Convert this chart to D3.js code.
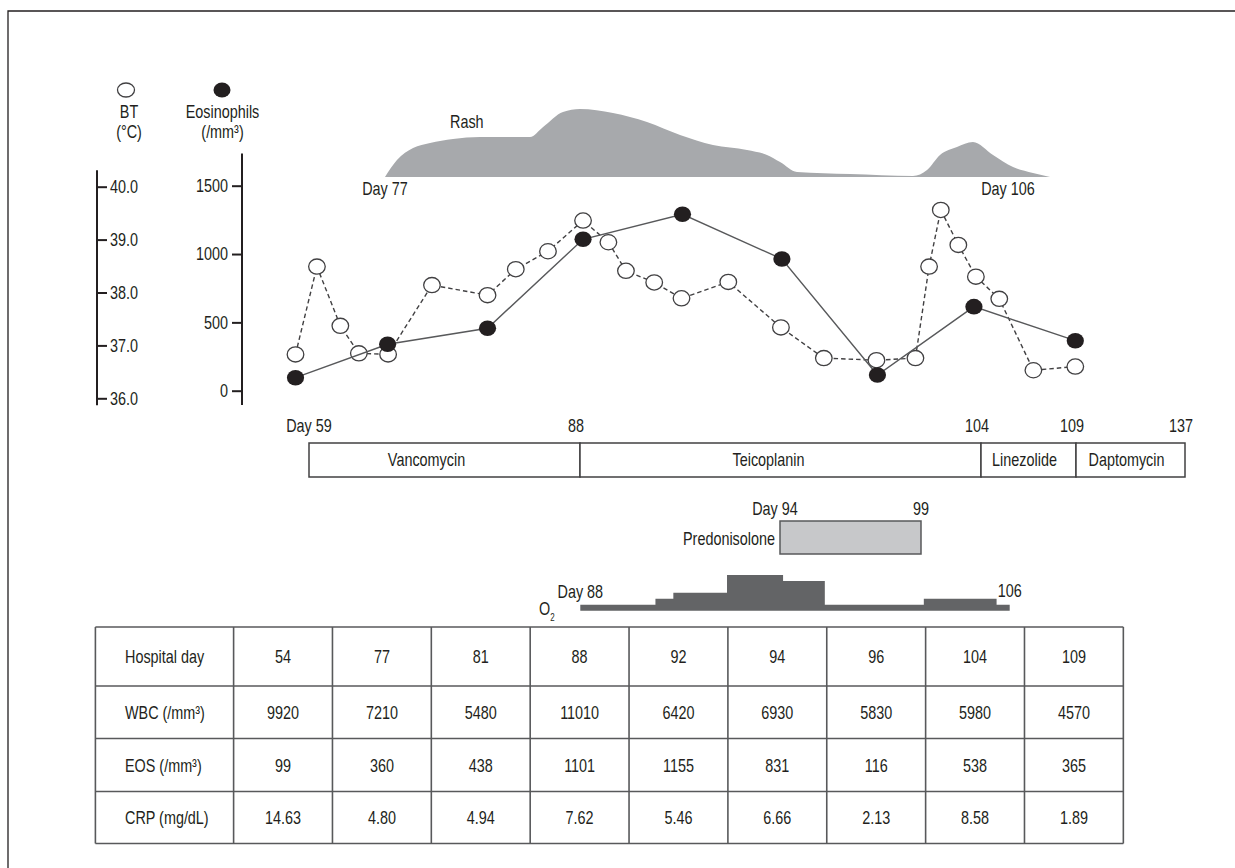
<!DOCTYPE html>
<html>
<head>
<meta charset="utf-8">
<script src="https://cdn.jsdelivr.net/npm/d3@7"></script>
<style>
  html, body { margin: 0; padding: 0; background: #fff; }
  svg text { font-family: "Liberation Sans", Arial, sans-serif; fill: #231f20; }
</style>
</head>
<body>
<script>
// ---------------- DATA ----------------
// Line chart: position along the (schematic) time axis, in units of table-column index
const eosPos  = [0, 0.945, 1.97, 2.95, 3.97, 4.99, 5.97, 6.96, 8.0];
const eosPlot = [95, 340, 457, 1108, 1291, 964, 115, 615, 366];           // eosinophils (/mm3) as drawn
const btPos   = [0, 0.22, 0.46, 0.65, 0.95, 1.40, 1.97, 2.26, 2.59, 2.95, 3.21, 3.39, 3.68,
                 3.96, 4.44, 4.98, 5.42, 5.96, 6.36, 6.50, 6.62, 6.80, 6.98, 7.22, 7.57, 8.0];
const btTemp  = [36.83, 38.49, 37.37, 36.85, 36.83, 38.14, 37.95, 38.44, 38.78, 39.36, 38.95, 38.41, 38.19,
                 37.89, 38.20, 37.34, 36.76, 36.72, 36.76, 38.49, 39.56, 38.90, 38.30, 37.88, 36.53, 36.60];
const btTicks  = [36, 37, 38, 39, 40];
const eosTicks = [0, 500, 1000, 1500];

// Rash intensity profile (relative, 0..1) along the same position axis
const rashPos   = [0.918, 1.041, 1.206, 1.380, 1.616, 1.893, 2.406, 2.540, 2.744, 2.919, 3.257, 3.606, 3.945,
                   4.283, 4.632, 4.837, 4.971, 5.145, 5.689, 6.335, 6.479, 6.612, 6.786, 6.950, 7.156, 7.361, 7.566, 7.741];
const rashLevel = [0, 0.25, 0.426, 0.5, 0.559, 0.588, 0.588, 0.735, 0.956, 1.0, 0.941, 0.809, 0.618,
                   0.471, 0.397, 0.324, 0.221, 0.074, 0.044, 0.015, 0.103, 0.324, 0.441, 0.515, 0.324, 0.147, 0.059, 0];

// Antibiotics timeline (schematic, piecewise)
const drugDays  = [59, 88, 104, 109, 137];
const drugNames = ["Vancomycin", "Teicoplanin", "Linezolide", "Daptomycin"];
const drugDayLabels = ["Day 59", "88", "104", "109", "137"];

// Predonisolone
const predDays = [94, 99];
const predLabels = ["Day 94", "99"];

// Oxygen (relative flow levels, step chart)
const o2Edges  = [88, 91.15, 91.9, 94.15, 96.5, 98.25, 102.4, 105.45, 106];
const o2Levels = [1, 2, 3, 6, 5, 1, 2, 1];
const o2Labels = ["Day 88", "106"];

// Table
const rowHeaders   = ["Hospital day", "WBC (/mm³)", "EOS (/mm³)", "CRP (mg/dL)"];
const hospitalDays = ["54", "77", "81", "88", "92", "94", "96", "104", "109"];
const wbc          = ["9920", "7210", "5480", "11010", "6420", "6930", "5830", "5980", "4570"];
const eosTable     = ["99", "360", "438", "1101", "1155", "831", "116", "538", "365"];
const crp          = ["14.63", "4.80", "4.94", "7.62", "5.46", "6.66", "2.13", "8.58", "1.89"];

// ---------------- DRAW ----------------
const W = 1235, H = 868;
const ink = "#231f20";
const NARROW = 0.8;   // horizontal condensing of the font
const fs = 18;
const svg = d3.select("body").append("svg").attr("width", W).attr("height", H);

// condensed text helper
function label(parent, str, tx, ty, anchor = "start", size = fs) {
  const t = parent.append("text")
    .attr("transform", `translate(${tx},${ty}) scale(${NARROW},1)`)
    .attr("text-anchor", anchor).attr("font-size", size);
  t.text(str);
  return t;
}

// frame
svg.append("path").attr("d", `M8,${H} V11 H${W}`).attr("fill", "none").attr("stroke", ink).attr("stroke-width", 1.3);

// scales
const x = d3.scaleLinear().domain([0, 8]).range([295.5, 1075.3]);
const yBT = d3.scaleLinear().domain([36, 40]).range([398.3, 186.7]);
const yEos = d3.scaleLinear().domain([0, 1500]).range([390.7, 185.7]);
const yRash = d3.scaleLinear().domain([0, 1]).range([177, 109]);

// ---- legends ----
svg.append("ellipse").attr("cx", 126).attr("cy", 90).attr("rx", 8.5).attr("ry", 7)
  .attr("fill", "#fff").attr("stroke", "#414042").attr("stroke-width", 1.3);
svg.append("ellipse").attr("cx", 222).attr("cy", 90).attr("rx", 8.5).attr("ry", 7.5).attr("fill", ink);
[["BT", 129, 118], ["(°C)", 129, 138], ["Eosinophils", 222.5, 118], ["(/mm³)", 222.5, 138]].forEach(([t, tx, ty]) => {
  label(svg, t, tx, ty, "middle");
});

// ---- axes ----
function condenseTicks(g) {
  g.selectAll(".tick text").each(function () {
    const el = d3.select(this);
    const xx = +el.attr("x") || 0;
    el.attr("x", xx / NARROW).attr("transform", `scale(${NARROW},1)`).attr("font-size", fs).attr("fill", ink)
      .style("font-family", '"Liberation Sans", Arial, sans-serif');
  });
}
const btAxis = svg.append("g").attr("transform", "translate(97,0)")
  .call(d3.axisRight(yBT).tickValues(btTicks).tickFormat(d3.format(".1f")).tickSize(10).tickPadding(3));
btAxis.select(".domain").remove();
btAxis.append("line").attr("x1", 0).attr("x2", 0).attr("y1", yBT(40.31)).attr("y2", yBT(35.87));
const eosAxis = svg.append("g").attr("transform", "translate(242,0)")
  .call(d3.axisLeft(yEos).tickValues(eosTicks).tickFormat(d3.format("d")).tickSize(10).tickPadding(4));
eosAxis.select(".domain").remove();
eosAxis.append("line").attr("x1", 0).attr("x2", 0).attr("y1", yEos(1735)).attr("y2", yEos(-105));
[btAxis, eosAxis].forEach(g => {
  g.selectAll("line").attr("stroke", ink).attr("stroke-width", 2);
  condenseTicks(g);
});

// ---- rash ----
const rashData = rashPos.map((p, i) => ({ p, v: rashLevel[i] }));
svg.append("path").datum(rashData)
  .attr("d", d3.area().x(d => x(d.p)).y0(yRash(0)).y1(d => yRash(d.v)).curve(d3.curveMonotoneX))
  .attr("fill", "#a7a9ac");
label(svg, "Rash", 450, 128);
label(svg, "Day 77", x(rashPos[0]), 195, "middle");
label(svg, "Day 106", 1008, 195, "middle");

// ---- lines & points ----
const btData = btPos.map((p, i) => ({ p, v: btTemp[i] }));
const eosData = eosPos.map((p, i) => ({ p, v: eosPlot[i] }));
svg.append("path").datum(btData)
  .attr("d", d3.line().x(d => x(d.p)).y(d => yBT(d.v)))
  .attr("fill", "none").attr("stroke", "#414042").attr("stroke-width", 1.4).attr("stroke-dasharray", "4.5,3");
svg.selectAll(".bt").data(btData).join("ellipse").attr("class", "bt")
  .attr("cx", d => x(d.p)).attr("cy", d => yBT(d.v)).attr("rx", 8.3).attr("ry", 7.6)
  .attr("fill", "#fff").attr("stroke", "#414042").attr("stroke-width", 1.3);
svg.append("path").datum(eosData)
  .attr("d", d3.line().x(d => x(d.p)).y(d => yEos(d.v)))
  .attr("fill", "none").attr("stroke", "#58595b").attr("stroke-width", 1.4);
svg.selectAll(".eos").data(eosData).join("ellipse").attr("class", "eos")
  .attr("cx", d => x(d.p)).attr("cy", d => yEos(d.v)).attr("rx", 8.6).attr("ry", 7.8)
  .attr("fill", ink);

// ---- antibiotics bar ----
const xDrug = d3.scaleLinear().domain(drugDays).range([309, 580, 981, 1076, 1185]);
const barTop = 443, barH = 34;
drugNames.forEach((n, i) => {
  const x0 = xDrug(drugDays[i]), x1 = xDrug(drugDays[i + 1]);
  svg.append("rect").attr("x", x0).attr("y", barTop).attr("width", x1 - x0).attr("height", barH)
    .attr("fill", "#fff").attr("stroke", "#414042").attr("stroke-width", 1.5);
  label(svg, n, (x0 + x1) / 2 - (i === 0 ? 18 : i === 1 ? 12 : 4), barTop + 23, "middle");
});
drugDays.forEach((d, i) => {
  label(svg, drugDayLabels[i], xDrug(d) + (i === 0 ? 0 : -4), 432, "middle");
});

// ---- predonisolone ----
const xPred = d3.scaleLinear().domain(predDays).range([780, 921]);
svg.append("rect").attr("x", xPred(94)).attr("y", 521).attr("width", xPred(99) - xPred(94)).attr("height", 33)
  .attr("fill", "#c7c8ca").attr("stroke", "#58595b").attr("stroke-width", 1.5);
label(svg, "Predonisolone", xPred(94) - 5, 545, "end");
label(svg, predLabels[0], xPred(94) - 5, 515, "middle");
label(svg, predLabels[1], xPred(99), 515, "middle");

// ---- oxygen ----
const xO2 = d3.scaleLinear().domain([88, 106]).range([580.3, 1009.7]);
const yO2 = d3.scaleLinear().domain([0, 6]).range([610.7, 575]);
const o2Data = [];
o2Levels.forEach((l, i) => { o2Data.push({ d: o2Edges[i], l }); });
o2Data.push({ d: o2Edges[o2Edges.length - 1], l: o2Levels[o2Levels.length - 1] });
svg.append("path").datum(o2Data)
  .attr("d", d3.area().x(d => xO2(d.d)).y0(yO2(0)).y1(d => yO2(d.l)).curve(d3.curveStepAfter))
  .attr("fill", "#636466");
label(svg, o2Labels[0], xO2(88), 598, "middle");
label(svg, o2Labels[1], xO2(106), 597, "middle");
const o2t = label(svg, "", 539, 615);
o2t.append("tspan").text("O");
o2t.append("tspan").attr("font-size", 10).attr("dy", 6).text("2");

// ---- table ----
const tLeft = 95.4, firstW = 138.2, colW = 98.86;
const rowY = [627, 686, 738.5, 791.5, 843.5];
const rows = [hospitalDays, wbc, eosTable, crp];
const colX = d3.range(10).map(i => tLeft + firstW + i * colW);
const tg = svg.append("g").attr("stroke", "#58595b").attr("stroke-width", 1.6);
rowY.forEach(y => tg.append("line").attr("x1", tLeft).attr("x2", colX[9]).attr("y1", y).attr("y2", y));
[tLeft].concat(colX).forEach(cx => tg.append("line").attr("x1", cx).attr("x2", cx).attr("y1", rowY[0]).attr("y2", rowY[4]));
rows.forEach((r, ri) => {
  const cy = (rowY[ri] + rowY[ri + 1]) / 2 + 6.5;
  label(svg, rowHeaders[ri], 125, cy);
  r.forEach((v, ci) => {
    label(svg, v, (colX[ci] + colX[ci + 1]) / 2, cy, "middle");
  });
});
</script>
</body>
</html>
